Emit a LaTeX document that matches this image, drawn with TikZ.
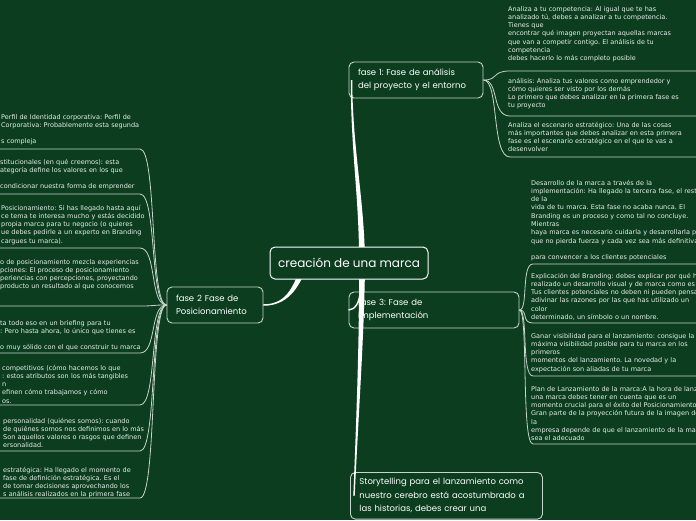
\documentclass[tikz,border=0pt]{standalone}
\usepackage{fontspec}
\setmainfont{DejaVu Sans}
\newfontfamily\headfont{Poppins}
\usetikzlibrary{positioning, calc}
\definecolor{mapgreen}{RGB}{11,61,30}
\definecolor{mapline}{RGB}{200,212,203}
\definecolor{maptext}{RGB}{234,239,235}
\frenchspacing

\begin{document}
\begin{tikzpicture}[x=1pt, y=-1pt,
  topic/.style={draw=mapline, line width=0.9pt, rounded corners=5pt,
    text=white, font=\headfont\fontsize{8.5}{13.5}\selectfont, align=left,
    inner xsep=9pt, inner ysep=0pt, minimum height=36pt},
  note/.style={anchor=base west, inner sep=0pt, text=maptext,
    font=\fontsize{6.5}{8.3}\selectfont, align=left},
  twig/.style={draw=mapline, line width=0.8pt},
  limb/.style={fill=white}]

%% page and clip
\useasboundingbox (0,0) rectangle (696,520);
\fill[mapgreen] (0,0) rectangle (696,520);
\clip (0,0) rectangle (696,520);

%% main topics
\node[topic, text width=116pt] (fase1) at (416,80)
  {fase 1: Fase de análisis\\del proyecto y el entorno};
\node[topic, text width=78pt] (fase2) at (215,305)
  {fase 2 Fase de\\Posicionamiento};
\node[topic, text width=152pt] (fase3) at (434,310)
  {fase 3: Fase de\\implementación};
\node[topic, text width=174pt, inner ysep=6pt, anchor=north west] (story) at (350,472)
  {Storytelling para el lanzamiento como\\nuestro cerebro está acostumbrado a\\las historias, debes crear una};

%% thick branches from the centre
\coordinate (hub) at (362,263);
\coordinate (hubleft) at (305,263);
\coordinate (f1tip) at ($(fase1.west)+(3,0)$);
\coordinate (sttip) at ($(story.west)+(4,0)$);
\fill[limb] ($(hub)+(-3,0)$) .. controls ($(hub)+(-2.5,-63)$) and ($(f1tip)+(-1,70)$)
  .. ($(f1tip)+(-0.7,0)$) -- ($(f1tip)+(0.7,0)$)
  .. controls ($(f1tip)+(1,70)$) and ($(hub)+(2.5,-63)$) .. ($(hub)+(3,0)$) -- cycle;
\fill[limb] ($(hub)+(-3,0)$) .. controls ($(hub)+(-2.5,67)$) and ($(sttip)+(3,-92)$)
  .. ($(sttip)+(-0.7,0)$) -- ($(sttip)+(0.7,0)$)
  .. controls ($(sttip)+(5,-92)$) and ($(hub)+(2.5,67)$) .. ($(hub)+(3,0)$) -- cycle;
\fill[limb] ($(hubleft)+(-3,0)$) .. controls ($(hubleft)+(-12,26)$) and ($(fase2.east)+(22,-0.7)$)
  .. ($(fase2.east)+(0,-0.75)$) -- ($(fase2.east)+(0,0.75)$)
  .. controls ($(fase2.east)+(22,0.7)$) and ($(hubleft)+(-6,28)$) .. ($(hubleft)+(3,0)$) -- cycle;
\draw[white, line width=1.4pt] ($(hub)+(-2,28)$) .. controls +(0,12) and +(6,0) .. (fase3.west);

%% sub-topic connectors and underlines
\foreach \y in {71,116,157}
  \draw[twig] (fase1.east) .. controls +(16,0) and (491,\y) .. (510,\y) -- (696,\y);
\foreach \y in {264,323,376,444}
  \draw[twig] (fase3.east) .. controls +(9,0) and (521,\y) .. (533,\y) -- (696,\y);
\foreach \y in {149,194,248,306,353,405,451,498}
  \draw[twig] (fase2.west) .. controls +(-17,0) and (157,\y) .. (140,\y) -- (0,\y);

%% notes of fase 1
\node[note, text width=260pt] (competencia) at (508,11)
  {Analiza a tu competencia: Al igual que te has\\analizado tú, debes a analizar a tu competencia.\\Tienes que\\encontrar qué imagen proyectan aquellas marcas\\que van a competir contigo. El análisis de tu\\competencia\\debes hacerlo lo más completo posible};
\node[note, text width=260pt] (valores) at (508,83)
  {análisis: Analiza tus valores como emprendedor y\\cómo quieres ser visto por los demás\\Lo primero que debes analizar en la primera fase es\\tu proyecto};
\node[note, text width=260pt] (escenario) at (508,127)
  {Analiza el escenario estratégico: Una de las cosas\\más importantes que debes analizar en esta primera\\fase es el escenario estratégico en el que te vas a\\desenvolver};

%% notes of fase 3
\node[note, text width=260pt] (desarrollo) at (531,185)
  {Desarrollo de la marca a través de la\\implementación: Ha llegado la tercera fase, el rest\\de la\\vida de tu marca. Esta fase no acaba nunca. El\\Branding es un proceso y como tal no concluye.\\Mientras\\haya marca es necesario cuidarla y desarrollarla pa\\que no pierda fuerza y cada vez sea más definitiva\\[8.3pt]para convencer a los clientes potenciales};
\node[note, text width=260pt] (explicacion) at (531,278)
  {Explicación del Branding: debes explicar por qué h\\realizado un desarrollo visual y de marca como es\\Tus clientes potenciales no deben ni pueden pensa\\adivinar las razones por las que has utilizado un\\color\\determinado, un símbolo o un nombre.};
\node[note, text width=260pt] (visibilidad) at (531,338)
  {Ganar visibilidad para el lanzamiento: consigue la\\máxima visibilidad posible para tu marca en los\\primeros\\momentos del lanzamiento. La novedad y la\\expectación son aliadas de tu marca};
\node[note, text width=260pt] (plan) at (531,391)
  {Plan de Lanzamiento de la marca:A la hora de lanz\\una marca debes tener en cuenta que es un\\momento crucial para el éxito del Posicionamiento.\\Gran parte de la proyección futura de la imagen de\\la\\empresa depende de que el lanzamiento de la mar\\sea el adecuado};

%% notes of fase 2 (cut by the left edge)
\node[note, text width=160pt] (perfil) at (1,119)
  {Perfil de Identidad corporativa: Perfil de\\ Corporativa: Probablemente esta segunda\\[8.3pt]s compleja};
\node[note, text width=160pt] (institucionales) at (0,164)
  {stitucionales (en qué creemos): esta\\ategoría define los valores en los que\\[8.3pt] condicionar nuestra forma de emprender};
\node[note, text width=160pt] (posicion) at (1,210)
  {Posicionamiento: Si has llegado hasta aquí\\ce tema te interesa mucho y estás decidido\\ propia marca para tu negocio (o quieres\\ue debes pedirle a un experto en Branding\\cargues tu marca).};
\node[note, text width=160pt] (proceso) at (0,264)
  {o de posicionamiento mezcla experiencias\\pciones: El proceso de posicionamiento\\periencias con percepciones, proyectando\\producto un resultado al que conocemos};
\node[note, text width=160pt] (briefing) at (0,325)
  {ta todo eso en un briefing para tu\\: Pero hasta ahora, lo único que tienes es\\[8.3pt]o muy sólido con el que construir tu marca};
\node[note, text width=160pt] (competitivos) at (2,370)
  {competitivos (cómo hacemos lo que\\: estos atributos son los más tangibles\\n\\efinen cómo trabajamos y cómo\\os.};
\node[note, text width=160pt] (personalidad) at (3,423)
  {personalidad (quiénes somos): cuando\\de quiénes somos nos definimos en lo más\\Son aquellos valores o rasgos que definen\\ersonalidad.};
\node[note, text width=160pt] (estrategica) at (3,472)
  {estratégica: Ha llegado el momento de\\fase de definición estratégica. Es el\\de tomar decisiones aprovechando los\\s análisis realizados en la primera fase};

%% central topic
\node[draw=white, line width=1pt, rounded corners=5pt, fill=mapgreen,
      minimum width=158pt, minimum height=32pt, text=white,
      font=\headfont\fontsize{12}{14}\selectfont] (root) at (349,263)
  {creación de una marca};
\end{tikzpicture}
\end{document}
